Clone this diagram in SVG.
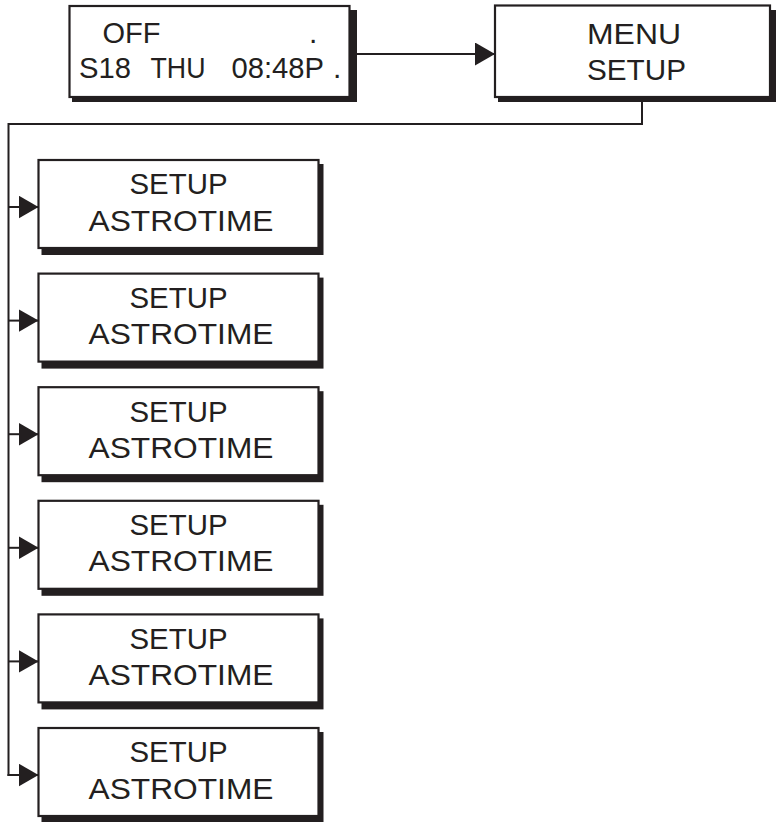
<svg xmlns="http://www.w3.org/2000/svg" width="776" height="822" viewBox="0 0 776 822">
<style>
.box{fill:#fff;stroke:#231f20;stroke-width:2.2}
.shd{fill:#231f20}
.t{font-family:"Liberation Sans",Arial,sans-serif;font-size:30px;fill:#231f20}
.ln{fill:none;stroke:#231f20;stroke-width:2}
</style>
<defs>
<marker id="ah" markerUnits="userSpaceOnUse" markerWidth="21" markerHeight="24" refX="20" refY="11.5" orient="auto">
<path d="M0,0 L20,11.5 L0,23 z" fill="#231f20"/>
</marker>
</defs>
<g id="display">
<rect class="shd" x="72" y="10" width="285" height="92"/>
<rect class="box" x="69.5" y="6" width="280" height="91"/>
<text class="t" x="102.5" y="42.5" textLength="58" lengthAdjust="spacingAndGlyphs">OFF</text>
<text class="t" x="309" y="42.5">.</text>
<text class="t" x="79" y="78.3" textLength="52" lengthAdjust="spacingAndGlyphs">S18</text>
<text class="t" x="150.5" y="78.3" textLength="55" lengthAdjust="spacingAndGlyphs">THU</text>
<text class="t" x="231.5" y="78.3" textLength="92.5" lengthAdjust="spacingAndGlyphs">08:48P</text>
<text class="t" x="333" y="78.3">.</text>
</g>
<g id="menu-setup">
<rect class="shd" x="498" y="10" width="278" height="92"/>
<rect class="box" x="495" y="5.5" width="275" height="91.5"/>
<text class="t" x="587" y="43.5" textLength="94" lengthAdjust="spacingAndGlyphs">MENU</text>
<text class="t" x="587" y="80.2" textLength="99" lengthAdjust="spacingAndGlyphs">SETUP</text>
</g>
<g id="setup1">
<rect class="shd" x="41.5" y="164" width="282" height="91"/>
<rect class="box" x="38.5" y="160" width="280" height="88"/>
<text class="t" x="129.5" y="194.3" textLength="98" lengthAdjust="spacingAndGlyphs">SETUP</text>
<text class="t" x="88.5" y="230.5" textLength="185" lengthAdjust="spacingAndGlyphs">ASTROTIME</text>
</g>
<g id="setup2">
<rect class="shd" x="41.5" y="277.6" width="282" height="91"/>
<rect class="box" x="38.5" y="273.6" width="280" height="88"/>
<text class="t" x="129.5" y="307.9" textLength="98" lengthAdjust="spacingAndGlyphs">SETUP</text>
<text class="t" x="88.5" y="344.1" textLength="185" lengthAdjust="spacingAndGlyphs">ASTROTIME</text>
</g>
<g id="setup3">
<rect class="shd" x="41.5" y="391.2" width="282" height="91"/>
<rect class="box" x="38.5" y="387.2" width="280" height="88"/>
<text class="t" x="129.5" y="421.5" textLength="98" lengthAdjust="spacingAndGlyphs">SETUP</text>
<text class="t" x="88.5" y="457.7" textLength="185" lengthAdjust="spacingAndGlyphs">ASTROTIME</text>
</g>
<g id="setup4">
<rect class="shd" x="41.5" y="504.8" width="282" height="91"/>
<rect class="box" x="38.5" y="500.8" width="280" height="88"/>
<text class="t" x="129.5" y="535.1" textLength="98" lengthAdjust="spacingAndGlyphs">SETUP</text>
<text class="t" x="88.5" y="571.3" textLength="185" lengthAdjust="spacingAndGlyphs">ASTROTIME</text>
</g>
<g id="setup5">
<rect class="shd" x="41.5" y="618.4" width="282" height="91"/>
<rect class="box" x="38.5" y="614.4" width="280" height="88"/>
<text class="t" x="129.5" y="648.7" textLength="98" lengthAdjust="spacingAndGlyphs">SETUP</text>
<text class="t" x="88.5" y="684.9" textLength="185" lengthAdjust="spacingAndGlyphs">ASTROTIME</text>
</g>
<g id="setup6">
<rect class="shd" x="41.5" y="732" width="282" height="91"/>
<rect class="box" x="38.5" y="728" width="280" height="88"/>
<text class="t" x="129.5" y="762.3" textLength="98" lengthAdjust="spacingAndGlyphs">SETUP</text>
<text class="t" x="88.5" y="798.5" textLength="185" lengthAdjust="spacingAndGlyphs">ASTROTIME</text>
</g>
<g id="connectors">
<line class="ln" x1="357" y1="54" x2="495" y2="54" marker-end="url(#ah)"/>
<polyline class="ln" points="642,102 642,124 8.5,124 8.5,776"/>
<line class="ln" x1="8.5" y1="207" x2="38.5" y2="207" marker-end="url(#ah)"/>
<line class="ln" x1="8.5" y1="320.6" x2="38.5" y2="320.6" marker-end="url(#ah)"/>
<line class="ln" x1="8.5" y1="434.2" x2="38.5" y2="434.2" marker-end="url(#ah)"/>
<line class="ln" x1="8.5" y1="547.8" x2="38.5" y2="547.8" marker-end="url(#ah)"/>
<line class="ln" x1="8.5" y1="661.4" x2="38.5" y2="661.4" marker-end="url(#ah)"/>
<line class="ln" x1="7.5" y1="775" x2="38.5" y2="775" marker-end="url(#ah)"/>
</g>
</svg>
